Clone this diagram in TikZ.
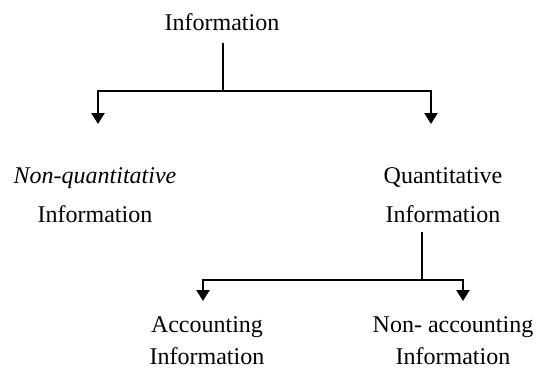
\documentclass[tikz,border=0pt]{standalone}
\usepackage{fontspec}
\setmainfont{Liberation Serif}
\usetikzlibrary{arrows.meta}
\begin{document}
\begin{tikzpicture}[x=1pt,y=-1pt,
  line/.style={line width=2.3pt},
  arr/.style={line width=2.3pt,-{Triangle[width=13pt,length=11pt]}},
  lab/.style={font=\fontsize{24}{39}\selectfont, align=center, inner sep=0pt, anchor=base},
  labb/.style={lab, font=\fontsize{24}{32}\selectfont}]
\useasboundingbox (0,0) rectangle (536,376);
\node[lab] (info) at (222,30) {Information};
\node[lab] (nq) at (95,222) {\textit{Non-quantitative}\\Information};
\node[lab] (q) at (443,222) {Quantitative\\Information};
\node[labb] (acc) at (207,364) {Accounting\\Information};
\node[labb] (nacc) at (453,364) {Non- accounting\\Information};
\coordinate (s1) at (223,43);
\coordinate (j1) at (223,91);
\coordinate (a1) at (98,124);
\coordinate (a2) at (431,124);
\coordinate (s2) at (422,232);
\coordinate (j2) at (422,280);
\coordinate (a3) at (203,301);
\coordinate (a4) at (463,301);
\draw[line] (s1) -- (j1);
\draw[arr] (j1) -| (a1);
\draw[arr] (j1) -| (a2);
\draw[line] (s2) -- (j2);
\draw[arr] (j2) -| (a3);
\draw[arr] (j2) -| (a4);
\end{tikzpicture}
\end{document}
